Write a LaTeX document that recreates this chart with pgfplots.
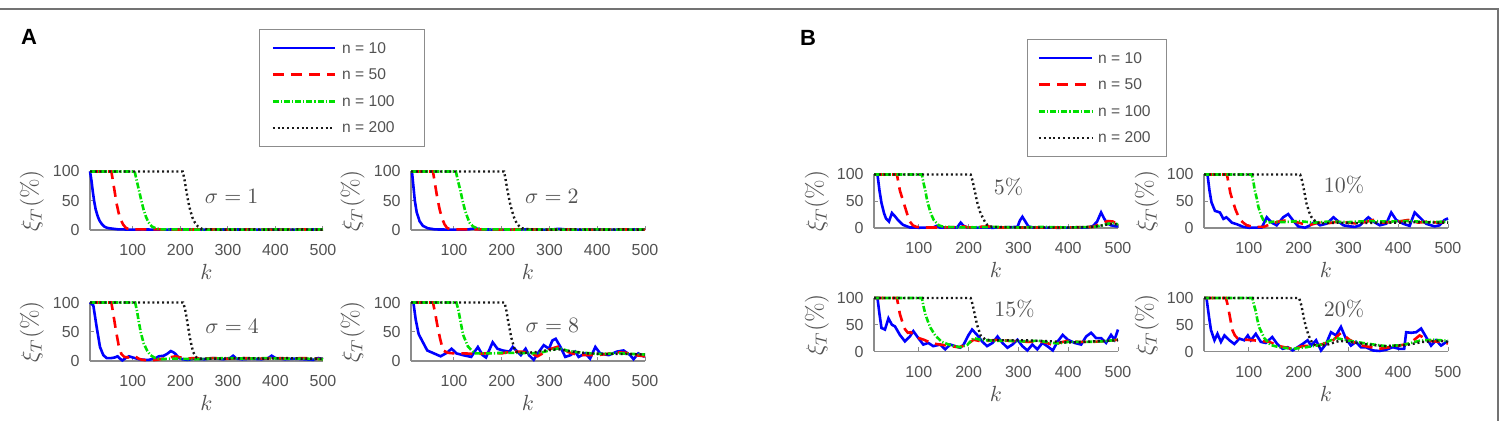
\documentclass[border=0pt]{standalone}
\usepackage[no-math]{fontspec}
\setmainfont{Liberation Sans}
\usepackage{pgfplots}
\pgfplotsset{compat=1.18}
\definecolor{mblue}{rgb}{0,0,1}
\definecolor{mred}{rgb}{1,0,0}
\definecolor{mgreen}{rgb}{0,0.88,0}
\definecolor{mblack}{rgb}{0.1,0.1,0.1}
\definecolor{tgray}{rgb}{0.32,0.32,0.32}
\definecolor{agray}{rgb}{0.55,0.55,0.55}
\definecolor{fgray}{rgb}{0.45,0.45,0.45}
\pgfplotsset{
 s10/.style={mblue, line width=1.3pt},
 s50/.style={mred, line width=1.3pt, dash pattern=on 5.5pt off 3.5pt},
 s100/.style={mgreen, line width=1.3pt, dash pattern=on 3pt off 1pt on 0.6pt off 1pt},
 s200/.style={mblack, line width=1.2pt, dash pattern=on 1pt off 1.4pt},
 myax/.style={scale only axis, anchor=south west,
  xmin=10, xmax=500, ymin=0, ymax=100,
  xtick={100,200,300,400,500}, ytick={0,50,100},
  axis x line*=bottom, axis y line*=left,
  axis line style={agray, line width=0.6pt},
  tick style={agray, line width=0.5pt}, tick align=inside, major tick length=2pt,
  clip=false,
  /pgf/number format/assume math mode=true,
  ticklabel style={font=\fontsize{8}{9}\selectfont, text=tgray},
  xticklabel style={anchor=center, yshift=-10pt},
  yticklabel style={anchor=east, inner xsep=0pt, xshift=-5pt},
  xlabel={$k$}, ylabel={$\xi_T(\%)$},
  every axis x label/.style={at={(axis description cs:0.5,0)}, anchor=center, yshift=-21pt, font=\fontsize{11}{12}\selectfont, text=tgray},
  every axis y label/.style={rotate=90, anchor=center, font=\fontsize{12}{14}\selectfont, text=tgray},
  legend cell align=left,
 },
 axA/.style={myax, width=116.5pt, height=29.25pt, ylabel style={at={(axis description cs:-0.249,0.5)}}},
 axB/.style={myax, width=122pt, height=26.75pt, ylabel style={at={(axis description cs:-0.234,0.5)}}},
}
\newcommand{\ann}[3]{\node[font=\fontsize{10.5}{12}\selectfont, text=tgray] at (axis cs:#1,#2) {#3};}
\begin{document}
\begin{tikzpicture}
\useasboundingbox (0,0) rectangle (752pt,210.5pt);
\draw[fgray, line width=1pt] (0,206pt) -- (749pt,206pt) -- (749pt,0);
\node[font=\fontsize{11}{12}\selectfont\bfseries] at (14.5pt,192.25pt) {A};
\node[font=\fontsize{11}{12}\selectfont\bfseries] at (404pt,191.75pt) {B};

% ---------- Panel A, sigma = 1
\begin{axis}[axA, at={(45pt,95.5pt)},
 legend image code/.code={\draw[#1] (0pt,0pt) -- (31pt,0pt);},
 legend style={at={(0.7253,3.436)}, anchor=north west, font=\fontsize{7.8}{8}\selectfont, text=tgray,
  draw=agray, line width=0.6pt, fill=white, inner xsep=6pt, inner ysep=2.6pt,
  nodes={inner xsep=0pt, inner ysep=2.65pt, text height=6.5pt, text depth=1.5pt},
  /tikz/every odd column/.append style={column sep=3pt}}]
\addplot[s10] coordinates {(10,100)(13,85)(16,65)(19,48)(22,35)(26,24)(30,16)(35,10)(40,6)(45,4)(50,3)(60,2)(70,1)(80,1)(100,0.5)(120,1)(150,0.5)(200,1)(250,0.5)(300,1)(350,0.5)(400,1)(450,0.5)(500,1)};
\addplot[s50] coordinates {(10,100)(55,100)(58,85)(62,65)(66,45)(70,30)(75,17)(80,9)(85,4)(90,2)(100,1)(150,1)(200,0.5)(250,1)(300,0.5)(350,1)(400,0.5)(450,1)(500,0.5)};
\addplot[s100] coordinates {(10,100)(104,100)(108,85)(113,68)(118,50)(123,34)(128,22)(133,13)(140,6)(148,3)(160,1)(200,1)(250,0.5)(300,1)(350,0.5)(400,1)(450,0.5)(500,1)};
\addplot[s200] coordinates {(10,100)(205,100)(209,85)(213,65)(217,47)(221,33)(226,20)(231,12)(237,6)(245,2)(260,1)(300,0.5)(350,1)(400,0.5)(450,1)(500,0.5)};
\legend{\makebox[35pt][l]{n = 10},\makebox[35pt][l]{n = 50},\makebox[35pt][l]{n = 100},\makebox[35pt][l]{n = 200}}
\ann{308}{57}{$\sigma=1$}
\end{axis}

% ---------- Panel A, sigma = 2
\begin{axis}[axA, width=117pt, at={(205.5pt,95.5pt)}]
\addplot[s10] coordinates {(10,100)(12,100)(15,75)(18,50)(22,30)(28,15)(35,7)(45,3)(60,1)(100,0.5)(130,1)(145,3)(155,1)(200,0.5)(250,1)(300,0.5)(320,2)(340,0.5)(400,1)(450,0.5)(500,1)};
\addplot[s50] coordinates {(10,100)(56,100)(60,80)(65,55)(70,35)(75,20)(80,10)(85,4)(90,2)(100,1)(150,1)(200,0.5)(250,1)(300,0.5)(350,1)(400,0.5)(450,1)(500,0.5)};
\addplot[s100] coordinates {(10,100)(104,100)(108,85)(113,69)(118,50)(123,34)(128,22)(133,12)(140,6)(148,3)(160,1)(200,1)(250,0.5)(300,1)(350,0.5)(400,1)(450,0.5)(500,1)};
\addplot[s200] coordinates {(10,100)(205,100)(209,82)(213,63)(217,47)(221,34)(226,21)(231,12)(237,6)(242,3)(260,1)(300,0.5)(350,1)(400,0.5)(450,1)(500,0.5)};
\ann{305}{57}{$\sigma=2$}
\end{axis}

% ---------- Panel A, sigma = 4
\begin{axis}[axA, at={(45pt,30pt)}]
\addplot[s10] coordinates {(10,100)(17,95)(24,58)(31,24)(38,10)(45,5)(55,5)(62,6)(68,8)(73,4)(78,1)(85,5)(92,8)(100,6)(113,3)(125,2)(134,2)(148,5)(155,8)(165,9)(172,12)(180,17)(185,15)(190,12)(197,5)(205,3)(215,2)(230,4)(250,3)(270,5)(290,3)(305,5)(311,9)(318,4)(330,3)(350,4)(370,3)(385,5)(392,9)(400,5)(420,3)(440,4)(460,3)(480,2)(490,5)(500,3)};
\addplot[s50] coordinates {(10,100)(55,100)(60,75)(65,50)(70,28)(76,12)(82,7)(90,6)(97,8)(105,8)(112,4)(120,2)(135,1)(150,2)(170,5)(190,8)(200,6)(210,4)(230,5)(250,4)(270,5)(300,4)(330,5)(360,4)(400,5)(430,4)(460,5)(500,3)};
\addplot[s100] coordinates {(10,100)(105,100)(109,85)(112,70)(117,48)(123,30)(130,18)(137,10)(147,5)(158,3)(180,4)(200,4)(230,3)(260,4)(300,5)(340,4)(380,5)(420,4)(460,4)(500,3)};
\addplot[s200] coordinates {(10,100)(206,100)(210,88)(213,75)(217,55)(220,40)(224,25)(227,15)(234,6)(242,4)(260,4)(300,4)(340,5)(380,4)(420,5)(460,4)(500,4)};
\ann{309}{59}{$\sigma=4$}
\end{axis}

% ---------- Panel A, sigma = 8
\begin{axis}[axA, width=117pt, at={(205.5pt,30pt)}]
\addplot[s10] coordinates {(10,100)(15,100)(20,70)(26,46)(33,35)(44,18)(58,13)(72,8)(85,14)(95,21)(105,13)(119,10)(136,7)(150,24)(160,10)(167,6)(181,32)(191,21)(202,18)(216,16)(223,24)(233,16)(240,10)(250,21)(257,10)(267,2)(278,16)(288,27)(299,21)(306,35)(313,38)(323,24)(333,7)(344,10)(354,16)(361,7)(375,13)(385,4)(396,24)(406,13)(424,10)(441,16)(455,18)(469,10)(476,3)(486,13)(497,8)(500,9)};
\addplot[s50] coordinates {(10,100)(56,100)(61,80)(66,57)(71,38)(77,18)(87,14)(100,13)(120,13)(150,12)(180,14)(200,13)(220,16)(240,16)(260,14)(275,8)(290,15)(300,20)(320,25)(330,20)(340,15)(360,10)(380,10)(400,10)(420,12)(440,15)(460,14)(480,10)(500,8)};
\addplot[s100] coordinates {(10,100)(105,100)(109,88)(112,75)(119,45)(129,25)(143,13)(160,13)(180,13)(200,14)(230,14)(260,13)(280,14)(300,18)(320,22)(340,17)(360,15)(400,12)(450,13)(500,11)};
\addplot[s200] coordinates {(10,100)(206,100)(210,85)(213,70)(220,40)(227,20)(233,14)(250,14)(270,15)(300,19)(320,20)(350,16)(380,13)(420,12)(460,12)(500,11)};
\ann{306}{61}{$\sigma=8$}
\end{axis}

% ---------- Panel B, 5%
\begin{axis}[axB, at={(437pt,96.5pt)},
 legend image code/.code={\draw[#1] (0pt,0pt) -- (26.5pt,0pt);},
 legend style={at={(0.627,3.533)}, anchor=north west, font=\fontsize{7.8}{8}\selectfont, text=tgray,
  draw=agray, line width=0.6pt, fill=white, inner xsep=5pt, inner ysep=2.6pt,
  nodes={inner xsep=0pt, inner ysep=2.65pt, text height=6.5pt, text depth=1.5pt},
  /tikz/every odd column/.append style={column sep=2.5pt}}]
\addplot[s10] coordinates {(10,100)(17,100)(21,70)(25,47)(30,28)(34,18)(40,12)(46,28)(52,22)(58,15)(68,6)(82,1)(100,0.5)(129,1)(136,4)(142,1)(177,1)(184,10)(190,4)(197,1)(250,0.5)(298,2)(303,14)(308,21)(314,12)(320,3)(328,1)(380,0.5)(440,1)(450,4)(458,12)(466,29)(472,18)(478,9)(486,5)(497,3)(500,3)};
\addplot[s50] coordinates {(10,100)(56,100)(62,70)(67,55)(72,40)(77,25)(82,12)(88,5)(95,2)(110,1)(150,1)(180,2)(190,3)(200,1)(240,3)(250,1)(300,1)(350,1)(400,1)(450,2)(470,10)(480,13)(490,12)(500,6)};
\addplot[s100] coordinates {(10,100)(106,100)(110,82)(113,70)(116,55)(120,40)(125,25)(130,15)(140,5)(150,2)(200,1)(250,2)(300,1)(350,2)(400,1)(450,2)(470,5)(480,8)(490,9)(500,7)};
\addplot[s200] coordinates {(10,100)(204,100)(208,88)(211,75)(215,58)(218,45)(223,30)(228,20)(233,11)(238,5)(248,2)(300,1)(350,1)(400,1)(450,2)(475,6)(490,8)(500,6)};
\legend{\makebox[29pt][l]{n = 10},\makebox[29pt][l]{n = 50},\makebox[29pt][l]{n = 100},\makebox[29pt][l]{n = 200}}
\ann{280}{77}{$5\%$}
\end{axis}

% ---------- Panel B, 10%
\begin{axis}[axB, at={(602pt,96.5pt)}]
\addplot[s10] coordinates {(10,100)(17,100)(21,70)(25,48)(32,32)(42,29)(49,17)(55,20)(66,10)(76,7)(89,2)(100,0.5)(126,1)(136,20)(146,10)(156,5)(169,20)(179,26)(189,14)(199,3)(213,0.5)(223,5)(233,12)(243,5)(256,8)(270,20)(280,12)(290,5)(303,3)(313,2)(323,5)(340,20)(350,12)(363,5)(376,8)(386,29)(396,15)(410,8)(423,4)(433,29)(443,20)(456,8)(473,3)(483,5)(493,15)(500,18)};
\addplot[s50] coordinates {(10,100)(56,100)(59,85)(63,65)(68,50)(73,35)(78,24)(83,15)(90,9)(96,5)(110,2)(130,2)(145,8)(160,12)(180,15)(200,10)(220,5)(240,10)(260,9)(280,12)(300,10)(320,8)(350,15)(370,10)(400,12)(420,15)(440,10)(460,12)(480,10)(500,12)};
\addplot[s100] coordinates {(10,100)(106,100)(110,82)(112,70)(116,55)(119,40)(124,25)(129,15)(139,10)(150,12)(170,11)(200,13)(230,10)(260,12)(300,11)(340,13)(380,12)(420,13)(460,11)(500,12)};
\addplot[s200] coordinates {(10,100)(203,100)(207,88)(210,75)(213,60)(216,45)(221,30)(226,20)(236,10)(250,9)(280,10)(320,9)(360,10)(400,10)(440,11)(480,10)(500,10)};
\ann{291}{80}{$10\%$}
\end{axis}

% ---------- Panel B, 15%
\begin{axis}[axB, at={(437pt,34.75pt)}]
\addplot[s10] coordinates {(10,100)(17,100)(21,70)(25,44)(32,41)(39,62)(46,50)(52,47)(62,31)(72,19)(82,28)(89,38)(99,25)(109,13)(119,16)(129,10)(143,13)(153,4)(163,13)(173,10)(183,7)(190,13)(200,31)(207,41)(217,31)(227,19)(237,10)(248,16)(258,28)(268,16)(278,7)(288,13)(298,22)(308,10)(318,2)(328,13)(338,4)(348,16)(358,10)(369,2)(379,19)(389,31)(399,22)(413,16)(426,13)(436,28)(446,35)(456,25)(466,25)(476,16)(486,31)(493,22)(500,41)};
\addplot[s50] coordinates {(10,100)(56,100)(59,85)(62,70)(67,55)(72,42)(78,35)(84,36)(90,30)(100,25)(110,22)(120,18)(135,14)(150,12)(165,10)(180,8)(195,12)(210,22)(220,20)(240,20)(260,22)(280,20)(300,19)(320,18)(350,18)(370,12)(385,17)(400,20)(420,18)(450,18)(480,20)(500,22)};
\addplot[s100] coordinates {(10,100)(106,100)(110,82)(113,70)(118,57)(123,45)(133,30)(146,18)(163,12)(183,8)(197,12)(210,25)(224,22)(250,20)(280,20)(310,19)(340,20)(370,16)(380,15)(400,18)(440,18)(470,19)(500,22)};
\addplot[s200] coordinates {(10,100)(204,100)(208,88)(211,75)(214,62)(217,50)(224,30)(234,22)(250,21)(280,21)(310,21)(340,20)(370,19)(390,17)(420,17)(450,19)(480,20)(500,21)};
\ann{292}{80}{$15\%$}
\end{axis}

% ---------- Panel B, 20%
\begin{axis}[axB, at={(602pt,34.75pt)}]
\addplot[s10] coordinates {(10,100)(15,100)(20,65)(24,40)(31,21)(37,33)(44,18)(51,30)(61,21)(71,14)(81,24)(91,21)(98,30)(104,21)(114,33)(124,18)(134,16)(147,27)(157,14)(168,5)(178,8)(188,2)(198,8)(208,14)(218,21)(225,11)(235,21)(245,2)(255,14)(265,36)(275,30)(285,46)(295,24)(305,11)(315,18)(325,8)(335,8)(349,2)(362,1)(375,3)(389,8)(402,5)(412,5)(416,36)(426,35)(436,36)(446,43)(456,27)(466,11)(476,21)(486,11)(497,18)(500,17)};
\addplot[s50] coordinates {(10,100)(54,100)(58,85)(61,70)(64,55)(67,40)(72,30)(77,25)(94,22)(121,20)(141,18)(161,10)(188,5)(208,10)(242,12)(268,20)(285,35)(302,22)(322,12)(362,5)(396,10)(423,15)(443,30)(463,20)(483,18)(500,15)};
\addplot[s100] coordinates {(10,100)(107,100)(111,85)(114,75)(117,60)(121,45)(131,25)(144,12)(161,8)(188,5)(215,8)(242,12)(275,25)(302,20)(335,15)(375,10)(409,12)(443,20)(470,22)(500,20)};
\addplot[s200] coordinates {(10,100)(201,100)(205,88)(208,75)(211,60)(215,45)(220,30)(225,20)(235,10)(255,12)(282,20)(309,17)(349,12)(375,10)(416,12)(450,18)(483,20)(500,18)};
\ann{291}{79}{$20\%$}
\end{axis}
\end{tikzpicture}
\end{document}
